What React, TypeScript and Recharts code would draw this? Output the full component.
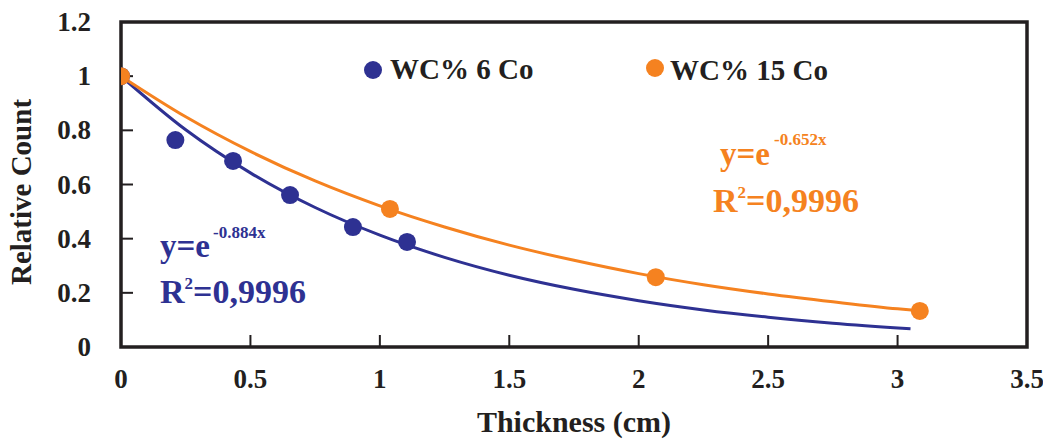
import React from 'react';
import {
  ComposedChart,
  Line,
  Scatter,
  XAxis,
  YAxis,
  ReferenceArea,
  Label,
} from 'recharts';

// ---- data ----
const xTicks = [0, 0.5, 1, 1.5, 2, 2.5, 3, 3.5];
const yTicks = [0, 0.2, 0.4, 0.6, 0.8, 1, 1.2];

const co6Points = [
  { x: 0, y: 1 },
  { x: 0.21, y: 0.764 },
  { x: 0.433, y: 0.687 },
  { x: 0.653, y: 0.561 },
  { x: 0.896, y: 0.443 },
  { x: 1.105, y: 0.388 },
];

const co15Points = [
  { x: 0, y: 1 },
  { x: 1.039, y: 0.51 },
  { x: 2.066, y: 0.258 },
  { x: 3.086, y: 0.133 },
];

// trend lines
const co6Trend = [
  { x: 0, y: 1 },
  { x: 0.25, y: 0.802 },
  { x: 0.5, y: 0.643 },
  { x: 0.75, y: 0.515 },
  { x: 1, y: 0.413 },
  { x: 1.25, y: 0.331 },
  { x: 1.5, y: 0.265 },
  { x: 1.75, y: 0.213 },
  { x: 2, y: 0.171 },
  { x: 2.25, y: 0.137 },
  { x: 2.5, y: 0.11 },
  { x: 2.75, y: 0.088 },
  { x: 3.05, y: 0.067 },
];

const co15Trend = [
  { x: 0, y: 1 },
  { x: 0.25, y: 0.85 },
  { x: 0.5, y: 0.722 },
  { x: 0.75, y: 0.613 },
  { x: 1, y: 0.521 },
  { x: 1.25, y: 0.443 },
  { x: 1.5, y: 0.376 },
  { x: 1.75, y: 0.32 },
  { x: 2, y: 0.271 },
  { x: 2.25, y: 0.23 },
  { x: 2.5, y: 0.196 },
  { x: 2.75, y: 0.167 },
  { x: 3, y: 0.141 },
  { x: 3.086, y: 0.134 },
];

const BLUE = '#2E3192';
const ORANGE = '#F58220';
const DARK = '#231F20';
const FONT = '"Liberation Serif", "Times New Roman", serif';

const XTick = (props: any) => {
  const { x, y, payload } = props;
  return (
    <text x={x} y={y} textAnchor="middle" fontFamily={FONT} fontWeight="bold" fontSize={27} fill={DARK}>
      {String(payload.value)}
    </text>
  );
};

const YTick = (props: any) => {
  const { x, y, payload } = props;
  return (
    <text x={x} y={y} dy={9} textAnchor="end" fontFamily={FONT} fontWeight="bold" fontSize={27} fill={DARK}>
      {String(payload.value)}
    </text>
  );
};

const Dot = (color: string) => (props: any) => {
  const { cx, cy } = props;
  if (cx == null || cy == null) return null;
  return <circle cx={cx} cy={cy} r={9} fill={color} />;
};

export default function App() {
  return (
    <div style={{ width: 1051, height: 441, margin: '-8px 0 0 -8px' }}>
      <ComposedChart
        width={1051}
        height={441}
        margin={{ top: 22, right: 24, bottom: 34, left: 41 }}
      >
        <XAxis
          type="number"
          dataKey="x"
          domain={[0, 3.5]}
          ticks={xTicks}
          interval={0}
          allowDataOverflow
          height={60}
          axisLine={false}
          tickSize={-12}
          tickMargin={53}
          tickLine={{ stroke: DARK, strokeWidth: 2 }}
          tick={<XTick />}
        >
          <Label
            content={(p: any) => {
              const vb = p.viewBox || { x: 121, y: 347, width: 906 };
              return (
                <text
                  x={vb.x + vb.width / 2}
                  y={432}
                  textAnchor="middle"
                  fontFamily={FONT}
                  fontWeight="bold"
                  fontSize={30}
                  fill={DARK}
                >
                  Thickness (cm)
                </text>
              );
            }}
          />
        </XAxis>
        <YAxis
          type="number"
          dataKey="y"
          domain={[0, 1.2]}
          ticks={yTicks}
          interval={0}
          width={80}
          axisLine={false}
          tickSize={-12}
          tickMargin={42}
          tickLine={{ stroke: DARK, strokeWidth: 2 }}
          tick={<YTick />}
        >
          <Label
            content={() => (
              <text
                x={0}
                y={0}
                transform="translate(31, 192) rotate(-90)"
                textAnchor="middle"
                fontFamily={FONT}
                fontWeight="bold"
                fontSize={29}
                fill={DARK}
              >
                Relative Count
              </text>
            )}
          />
        </YAxis>
        <ReferenceArea
          x1={0}
          x2={3.5}
          y1={0}
          y2={1.2}
          fill="none"
          fillOpacity={0}
          stroke={DARK}
          strokeWidth={3.5}
          ifOverflow="visible"
        />
        <Line
          data={co6Trend}
          dataKey="y"
          type="monotone"
          stroke={BLUE}
          strokeWidth={3}
          dot={false}
          activeDot={false}
          isAnimationActive={false}
        />
        <Line
          data={co15Trend}
          dataKey="y"
          type="monotone"
          stroke={ORANGE}
          strokeWidth={3}
          dot={false}
          activeDot={false}
          isAnimationActive={false}
        />
        <Scatter data={co6Points} dataKey="y" shape={Dot(BLUE)} isAnimationActive={false} />
        <Scatter data={co15Points} dataKey="y" shape={Dot(ORANGE)} isAnimationActive={false} />

        {/* legend */}
        <g>
          <circle cx={373} cy={70} r={9} fill={BLUE} />
          <text x={390} y={79} fontFamily={FONT} fontWeight="bold" fontSize={29} fill={DARK}>
            WC% 6 Co
          </text>
          <circle cx={655} cy={68} r={9} fill={ORANGE} />
          <text x={670} y={80} fontFamily={FONT} fontWeight="bold" fontSize={29} fill={DARK}>
            WC% 15 Co
          </text>
        </g>

        {/* fit annotations */}
        <g fontFamily={FONT} fontWeight="bold">
          <text x={160} y={257} fontSize={33} fill={BLUE}>
            y=e
          </text>
          <text x={213} y={238} fontSize={17} fill={BLUE}>
            -0.884x
          </text>
          <text x={160} y={303} fontSize={34} fill={BLUE}>
            R<tspan dy={-14} fontSize={17}>2</tspan>
            <tspan dy={14}>=0,9996</tspan>
          </text>
          <text x={720} y={165} fontSize={33} fill={ORANGE}>
            y=e
          </text>
          <text x={774} y={145} fontSize={17} fill={ORANGE}>
            -0.652x
          </text>
          <text x={713} y={212} fontSize={34} fill={ORANGE}>
            R<tspan dy={-14} fontSize={17}>2</tspan>
            <tspan dy={14}>=0,9996</tspan>
          </text>
        </g>
      </ComposedChart>
    </div>
  );
}
